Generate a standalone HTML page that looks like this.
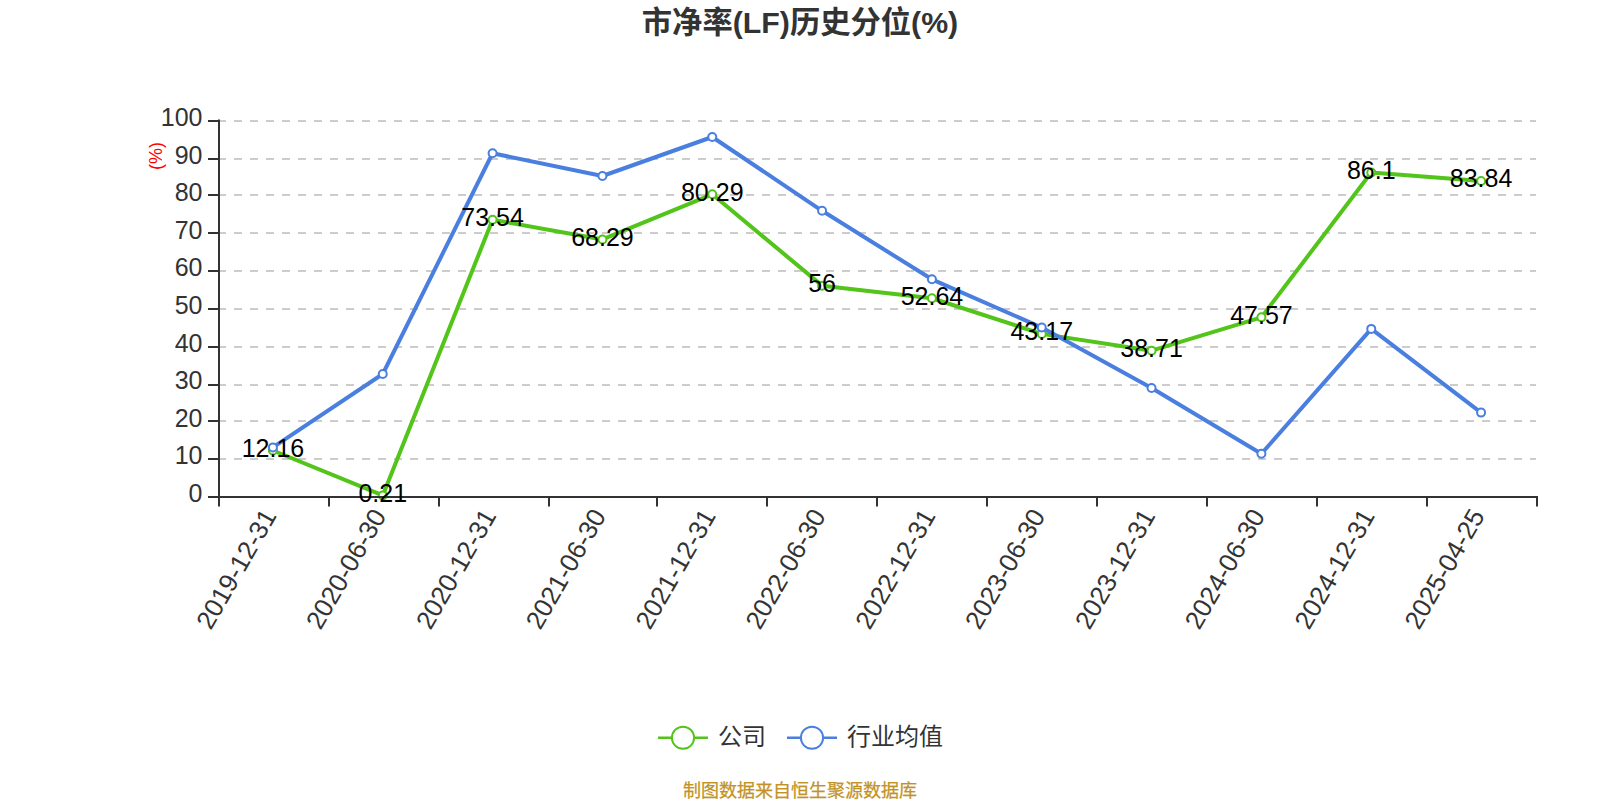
<!DOCTYPE html>
<html lang="zh"><head><meta charset="utf-8"><title>市净率(LF)历史分位(%)</title>
<style>html,body{margin:0;padding:0;background:#fff}body{width:1600px;height:800px;overflow:hidden}svg{display:block}text{font-family:"Liberation Sans","Noto Sans CJK SC",sans-serif}</style></head><body>
<svg width="1600" height="800" viewBox="0 0 1600 800">
<rect width="1600" height="800" fill="#fff"/>
<text x="800" y="32.8" text-anchor="middle" font-size="30.3" font-weight="bold" fill="#333">市净率(LF)历史分位(%)</text>
<g stroke="#ccc" stroke-width="2" stroke-dasharray="8 8">
<line x1="218" y1="459" x2="1536" y2="459"/>
<line x1="218" y1="421" x2="1536" y2="421"/>
<line x1="218" y1="385" x2="1536" y2="385"/>
<line x1="218" y1="347" x2="1536" y2="347"/>
<line x1="218" y1="309" x2="1536" y2="309"/>
<line x1="218" y1="271" x2="1536" y2="271"/>
<line x1="218" y1="233" x2="1536" y2="233"/>
<line x1="218" y1="195" x2="1536" y2="195"/>
<line x1="218" y1="159" x2="1536" y2="159"/>
<line x1="218" y1="121" x2="1536" y2="121"/>
</g>
<clipPath id="gc"><rect x="214" y="110" width="1328" height="390"/></clipPath>
<g clip-path="url(#gc)"><polyline points="272.92,450.48 382.75,495.41 492.58,219.69 602.42,239.43 712.25,194.31 822.08,285.64 931.92,298.27 1041.75,333.88 1151.58,350.65 1261.42,317.34 1371.25,172.46 1481.08,180.96" fill="none" stroke="#52c41a" stroke-width="4" stroke-linejoin="bevel"/>
<circle cx="272.92" cy="450.48" r="4" fill="#fff" stroke="#52c41a" stroke-width="2"/>
<circle cx="382.75" cy="495.41" r="4" fill="#fff" stroke="#52c41a" stroke-width="2"/>
<circle cx="492.58" cy="219.69" r="4" fill="#fff" stroke="#52c41a" stroke-width="2"/>
<circle cx="602.42" cy="239.43" r="4" fill="#fff" stroke="#52c41a" stroke-width="2"/>
<circle cx="712.25" cy="194.31" r="4" fill="#fff" stroke="#52c41a" stroke-width="2"/>
<circle cx="822.08" cy="285.64" r="4" fill="#fff" stroke="#52c41a" stroke-width="2"/>
<circle cx="931.92" cy="298.27" r="4" fill="#fff" stroke="#52c41a" stroke-width="2"/>
<circle cx="1041.75" cy="333.88" r="4" fill="#fff" stroke="#52c41a" stroke-width="2"/>
<circle cx="1151.58" cy="350.65" r="4" fill="#fff" stroke="#52c41a" stroke-width="2"/>
<circle cx="1261.42" cy="317.34" r="4" fill="#fff" stroke="#52c41a" stroke-width="2"/>
<circle cx="1371.25" cy="172.46" r="4" fill="#fff" stroke="#52c41a" stroke-width="2"/>
<circle cx="1481.08" cy="180.96" r="4" fill="#fff" stroke="#52c41a" stroke-width="2"/>
</g>
<g clip-path="url(#gc)"><polyline points="272.92,447.40 382.75,374.00 492.58,153.25 602.42,176.00 712.25,137.00 822.08,210.80 931.92,279.30 1041.75,327.50 1151.58,388.00 1261.42,453.80 1371.25,328.90 1481.08,412.60" fill="none" stroke="#4a7fdf" stroke-width="4" stroke-linejoin="bevel"/>
<circle cx="272.92" cy="447.40" r="4" fill="#fff" stroke="#4a7fdf" stroke-width="2"/>
<circle cx="382.75" cy="374.00" r="4" fill="#fff" stroke="#4a7fdf" stroke-width="2"/>
<circle cx="492.58" cy="153.25" r="4" fill="#fff" stroke="#4a7fdf" stroke-width="2"/>
<circle cx="602.42" cy="176.00" r="4" fill="#fff" stroke="#4a7fdf" stroke-width="2"/>
<circle cx="712.25" cy="137.00" r="4" fill="#fff" stroke="#4a7fdf" stroke-width="2"/>
<circle cx="822.08" cy="210.80" r="4" fill="#fff" stroke="#4a7fdf" stroke-width="2"/>
<circle cx="931.92" cy="279.30" r="4" fill="#fff" stroke="#4a7fdf" stroke-width="2"/>
<circle cx="1041.75" cy="327.50" r="4" fill="#fff" stroke="#4a7fdf" stroke-width="2"/>
<circle cx="1151.58" cy="388.00" r="4" fill="#fff" stroke="#4a7fdf" stroke-width="2"/>
<circle cx="1261.42" cy="453.80" r="4" fill="#fff" stroke="#4a7fdf" stroke-width="2"/>
<circle cx="1371.25" cy="328.90" r="4" fill="#fff" stroke="#4a7fdf" stroke-width="2"/>
<circle cx="1481.08" cy="412.60" r="4" fill="#fff" stroke="#4a7fdf" stroke-width="2"/>
</g>
<g stroke="#333" stroke-width="2">
<line x1="219" y1="119.5" x2="219" y2="498"/>
<line x1="208" y1="497" x2="219" y2="497"/>
<line x1="208" y1="459" x2="219" y2="459"/>
<line x1="208" y1="421" x2="219" y2="421"/>
<line x1="208" y1="385" x2="219" y2="385"/>
<line x1="208" y1="347" x2="219" y2="347"/>
<line x1="208" y1="309" x2="219" y2="309"/>
<line x1="208" y1="271" x2="219" y2="271"/>
<line x1="208" y1="233" x2="219" y2="233"/>
<line x1="208" y1="195" x2="219" y2="195"/>
<line x1="208" y1="159" x2="219" y2="159"/>
<line x1="208" y1="121" x2="219" y2="121"/>
<line x1="218" y1="497" x2="1538" y2="497"/>
<line x1="219" y1="497" x2="219" y2="506.5"/>
<line x1="329" y1="497" x2="329" y2="506.5"/>
<line x1="439" y1="497" x2="439" y2="506.5"/>
<line x1="549" y1="497" x2="549" y2="506.5"/>
<line x1="657" y1="497" x2="657" y2="506.5"/>
<line x1="767" y1="497" x2="767" y2="506.5"/>
<line x1="877" y1="497" x2="877" y2="506.5"/>
<line x1="987" y1="497" x2="987" y2="506.5"/>
<line x1="1097" y1="497" x2="1097" y2="506.5"/>
<line x1="1207" y1="497" x2="1207" y2="506.5"/>
<line x1="1317" y1="497" x2="1317" y2="506.5"/>
<line x1="1427" y1="497" x2="1427" y2="506.5"/>
<line x1="1537" y1="497" x2="1537" y2="506.5"/>
</g>
<g font-size="25" fill="#333" text-anchor="end">
<text x="202.5" y="502.0">0</text>
<text x="202.5" y="464.4">10</text>
<text x="202.5" y="426.8">20</text>
<text x="202.5" y="389.2">30</text>
<text x="202.5" y="351.6">40</text>
<text x="202.5" y="314.0">50</text>
<text x="202.5" y="276.4">60</text>
<text x="202.5" y="238.8">70</text>
<text x="202.5" y="201.2">80</text>
<text x="202.5" y="163.6">90</text>
<text x="202.5" y="126.0">100</text>
</g>
<text transform="translate(161.5,156) rotate(-90)" text-anchor="middle" font-size="18" fill="#f00">(%)</text>
<g font-size="26" fill="#333" text-anchor="end">
<text transform="translate(269.4,511.3) rotate(-60)" dy="9">2019-12-31</text>
<text transform="translate(379.2,511.3) rotate(-60)" dy="9">2020-06-30</text>
<text transform="translate(489.1,511.3) rotate(-60)" dy="9">2020-12-31</text>
<text transform="translate(598.9,511.3) rotate(-60)" dy="9">2021-06-30</text>
<text transform="translate(708.8,511.3) rotate(-60)" dy="9">2021-12-31</text>
<text transform="translate(818.6,511.3) rotate(-60)" dy="9">2022-06-30</text>
<text transform="translate(928.4,511.3) rotate(-60)" dy="9">2022-12-31</text>
<text transform="translate(1038.2,511.3) rotate(-60)" dy="9">2023-06-30</text>
<text transform="translate(1148.1,511.3) rotate(-60)" dy="9">2023-12-31</text>
<text transform="translate(1257.9,511.3) rotate(-60)" dy="9">2024-06-30</text>
<text transform="translate(1367.8,511.3) rotate(-60)" dy="9">2024-12-31</text>
<text transform="translate(1477.6,511.3) rotate(-60)" dy="9">2025-04-25</text>
</g>
<g font-size="25" fill="#000" text-anchor="middle">
<text x="272.92" y="456.78">12.16</text>
<text x="382.75" y="501.71">0.21</text>
<text x="492.58" y="225.99">73.54</text>
<text x="602.42" y="245.73">68.29</text>
<text x="712.25" y="200.61">80.29</text>
<text x="822.08" y="291.94">56</text>
<text x="931.92" y="304.57">52.64</text>
<text x="1041.75" y="340.18">43.17</text>
<text x="1151.58" y="356.95">38.71</text>
<text x="1261.42" y="323.64">47.57</text>
<text x="1371.25" y="178.76">86.1</text>
<text x="1481.08" y="187.26">83.84</text>
</g>
<line x1="658" y1="737.75" x2="708" y2="737.75" stroke="#52c41a" stroke-width="2.3"/>
<circle cx="683" cy="737.75" r="11.1" fill="#fff" stroke="#52c41a" stroke-width="2"/>
<text x="718" y="744.75" font-size="24" fill="#333">公司</text>
<line x1="787" y1="737.75" x2="837" y2="737.75" stroke="#4a7fdf" stroke-width="2.3"/>
<circle cx="812" cy="737.75" r="11.1" fill="#fff" stroke="#4a7fdf" stroke-width="2"/>
<text x="847" y="744.75" font-size="24" fill="#333">行业均值</text>
<text x="800" y="796.5" text-anchor="middle" font-size="18" fill="#c29226" stroke="#c29226" stroke-width="0.25">制图数据来自恒生聚源数据库</text>
</svg></body></html>
